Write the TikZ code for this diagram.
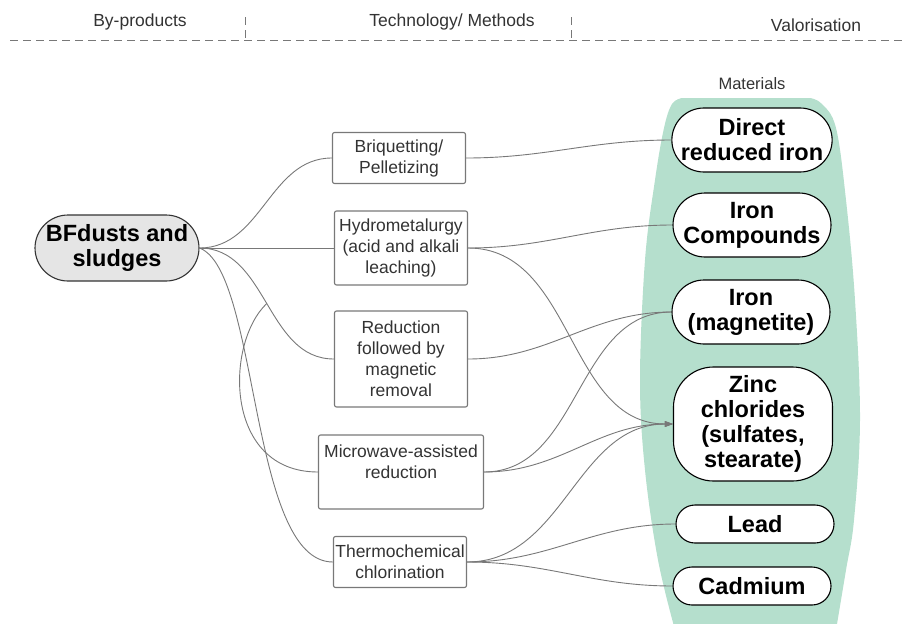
\documentclass[tikz,border=0pt]{standalone}
\usepackage{fontspec}
\setmainfont{Liberation Sans}
\usetikzlibrary{shapes.misc,arrows.meta}
\definecolor{matgreen}{RGB}{181,223,205}
\definecolor{linegray}{RGB}{120,120,120}
\definecolor{textgray}{RGB}{51,51,51}
\begin{document}
\begin{tikzpicture}[x=1pt,y=-1pt,
    header/.style={text=textgray,font=\fontsize{17.5}{20}\selectfont},
    method/.style={draw=linegray,line width=1.1pt,rounded corners=2pt,align=center,
        text=textgray,font=\fontsize{17.5}{21}\selectfont,minimum width=133pt,inner sep=1pt},
    material/.style={rounded rectangle,draw=black,line width=1.1pt,fill=white,align=center,
        font=\bfseries\fontsize{23.5}{25}\selectfont,minimum width=160pt,inner sep=1pt},
    link/.style={draw=linegray,line width=0.9pt},
    toarrow/.style={link,-{Triangle[length=8pt,width=5.5pt]}}]

    \useasboundingbox (0,0) rectangle (911,624);

    \node[header] (byp) at (140,22) {By-products};
    \node[header] (tech) at (452,22) {Technology/ Methods};
    \node[header] (valo) at (816,25) {Valorisation};
    \draw[linegray,dash pattern=on 8pt off 5pt] (10,40) -- (905,40);
    \draw[linegray,dash pattern=on 8pt off 5pt] (245,17) -- (245,40);
    \draw[linegray,dash pattern=on 8pt off 5pt] (571,17) -- (571,40);

    \fill[matgreen] plot[smooth,tension=0.6] coordinates {(675,630) (658,560) (645,470) (640,380)
        (645,260) (655,180) (664,128) (672,104) (682,98)}
        -- plot[smooth,tension=0.6] coordinates {(810,98) (822,104) (836,128) (846,200) (855,300)
        (860,420) (854,520) (846,570) (836,630)} -- cycle;
    \node[header,font=\fontsize{16.5}{20}\selectfont] (mat) at (752,84) {Materials};

    \node[rounded rectangle,draw=black!80,line width=1.1pt,fill=gray!20,align=center,
        font=\bfseries\fontsize{23.5}{25}\selectfont,minimum width=160pt,minimum height=66pt,
        inner sep=1pt] (bf) at (117,248) {BFdusts and\\sludges};

    \node[method,minimum height=51pt] (briq) at (399,158) {Briquetting/\\Pelletizing};
    \node[method,minimum height=74pt] (hydro) at (401,248) {Hydrometalurgy\\(acid and alkali\\leaching)};
    \node[method,minimum height=96pt] (red) at (401,359) {Reduction\\followed by\\magnetic\\removal};
    \node[method,minimum width=165pt,minimum height=74pt] (mw) at (401,472) {Microwave-assisted\\reduction\\~};
    \node[method,minimum height=51pt] (thermo) at (400,562) {Thermochemical\\chlorination};

    \node[material,minimum height=64pt] (dri) at (752,140) {Direct\\reduced iron};
    \node[material,minimum height=64pt] (ironc) at (752,225) {Iron\\Compounds};
    \node[material,minimum height=64pt] (magn) at (751,312) {Iron\\(magnetite)};
    \node[material,rectangle,rounded corners=40pt,minimum width=159pt,minimum height=114pt] (zinc) at (753,424)
        {Zinc\\chlorides\\(sulfates,\\stearate)};
    \node[material,minimum height=38pt] (lead) at (755,524) {Lead};
    \node[material,minimum height=38pt] (cad) at (752,586) {Cadmium};

    \draw[link] (bf.east) to[out=0,in=180] (briq.west);
    \draw[link] (bf.east) -- (hydro.west);
    \draw[link] (bf.east) to[out=0,in=180] coordinate[pos=0.5] (bend) (red.west);
    \draw[link] (bend) .. controls +(-42,40) and +(-94,0) .. (mw.west);
    \draw[link] (bf.east) .. controls +(60,23) and +(-84,0) .. (thermo.west);

    \draw[link] (briq.east) to[out=0,in=180] (dri.west);
    \draw[link] (hydro.east) to[out=0,in=180] (ironc.west);
    \draw[toarrow] (hydro.east) to[out=0,in=180] (zinc.west);
    \draw[link] (red.east) to[out=0,in=180] (magn.west);
    \draw[link] (mw.east) to[out=0,in=180] (magn.west);
    \draw[toarrow] (mw.east) to[out=0,in=180] (zinc.west);
    \draw[toarrow] (thermo.east) to[out=0,in=180] (zinc.west);
    \draw[link] (thermo.east) to[out=0,in=180] (lead.west);
    \draw[link] (thermo.east) to[out=0,in=180] (cad.west);
\end{tikzpicture}
\end{document}
